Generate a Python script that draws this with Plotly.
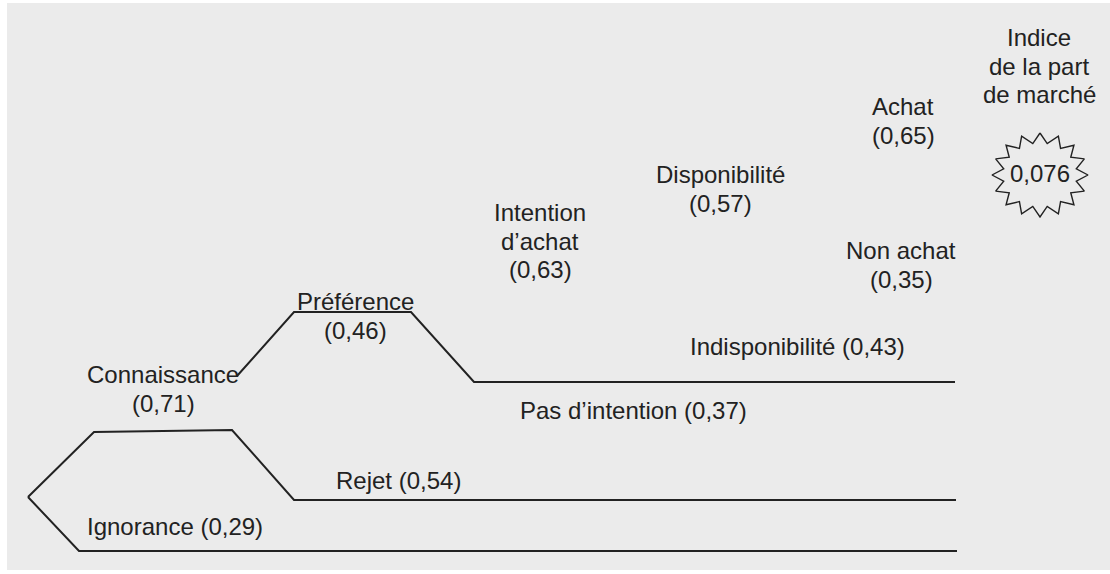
import numpy as np
import plotly.graph_objects as go

# ---------------- data ----------------
stages = ["Connaissance", "Préférence", "Intention\nd’achat", "Disponibilité", "Achat"]
stage_probs = [0.71, 0.46, 0.63, 0.57, 0.65]
losses = ["Ignorance", "Rejet", "Pas d’intention", "Indisponibilité", "Non achat"]
loss_probs = [0.29, 0.54, 0.37, 0.43, 0.35]
index_title = ["Indice", "de la part", "de marché"]

def fr(v, nd=2):
    return f"{v:.{nd}f}".replace(".", ",")

market_index = float(np.prod(stage_probs))

# ---------------- layout geometry (pixels) ----------------
W, H = 1110, 574
BG = "#ebebeb"
INK = "#222222"
FONT = "Liberation Sans, Arial, sans-serif"
FS = 24
LINE_H = 28.8

root = (28, 497)
branch_paths = [
    [root, (94, 432), (232, 430), (294, 500), (956, 500)],
    [root, (79, 551), (957, 551)],
    [(237, 376), (294, 312), (411, 312), (474, 382), (955, 382)],
]

stage_pos = [(163, 389), (355, 316), (540, 241), (720, 189), (903, 121)]
loss_pos = [(175, 526), (398, 480), (633, 410), (797, 346), (901, 265)]
loss_stacked = [False, False, False, False, True]
title_pos = (1039, 66)
star_center = (1040, 175)
star_out = (48, 42)
star_in = (37, 32)
star_n = 16

fig = go.Figure()

for path in branch_paths:
    fig.add_trace(go.Scatter(x=[p[0] for p in path], y=[p[1] for p in path],
                             mode="lines", line=dict(color=INK, width=2),
                             hoverinfo="skip", showlegend=False))

# star
k = np.arange(2 * star_n + 1)
ang = k * np.pi / star_n - np.pi / 2
rx = np.where(k % 2 == 0, star_out[0], star_in[0])
ry = np.where(k % 2 == 0, star_out[1], star_in[1])
fig.add_trace(go.Scatter(x=star_center[0] + rx * np.cos(ang),
                         y=star_center[1] + ry * np.sin(ang),
                         mode="lines", fill="toself", fillcolor=BG,
                         line=dict(color=INK, width=1.4),
                         hoverinfo="skip", showlegend=False))

annotations = []
def ann(lines, pos):
    n = len(lines)
    for i, t in enumerate(lines):
        y = pos[1] + (i - (n - 1) / 2) * LINE_H
        annotations.append(dict(x=pos[0], y=y, xref="x", yref="y", text=t,
                                showarrow=False, xanchor="center", yanchor="middle",
                                font=dict(family=FONT, size=FS, color=INK)))

for name, p, pos in zip(stages, stage_probs, stage_pos):
    ann(name.split("\n") + [f"({fr(p)})"], pos)
for name, p, pos, st in zip(losses, loss_probs, loss_pos, loss_stacked):
    ann([name, f"({fr(p)})"] if st else [f"{name} ({fr(p)})"], pos)
ann(index_title, title_pos)
ann([fr(market_index, 3)], (star_center[0], star_center[1] - 2))

fig.update_layout(
    width=W, height=H,
    margin=dict(l=7, r=0, t=3, b=4),
    paper_bgcolor="white", plot_bgcolor=BG,
    annotations=annotations,
    xaxis=dict(range=[7, W], visible=False, fixedrange=True),
    yaxis=dict(range=[H - 4, 3], visible=False, fixedrange=True),
    showlegend=False,
    hovermode=False,
)

fig.write_html("out.html", config={"displayModeBar": False},
               post_script="document.body.style.margin='0px';")
